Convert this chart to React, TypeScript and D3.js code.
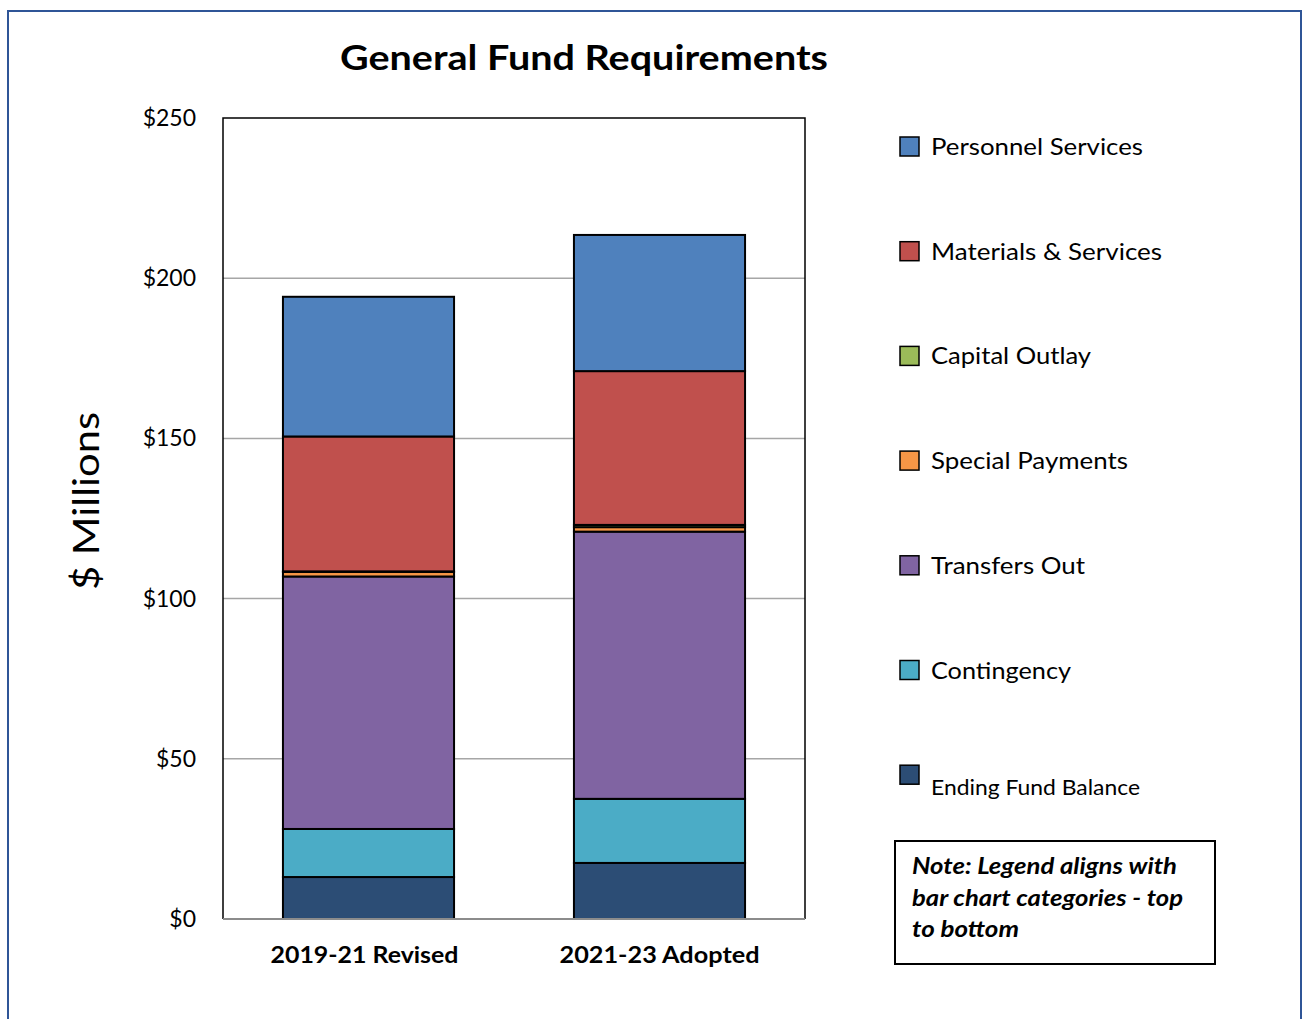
import React from "react";
import * as d3 from "d3";

const categories = ["2019-21 Revised", "2021-23 Adopted"];
// stacking order bottom -> top
const seriesNames = [
  "Ending Fund Balance",
  "Contingency",
  "Transfers Out",
  "Special Payments",
  "Capital Outlay",
  "Materials & Services",
  "Personnel Services",
];
const endingFundBalance = [13.1, 17.5];
const contingency = [15.0, 20.0];
const transfersOut = [78.8, 83.4];
const specialPayments = [1.4, 1.4];
const capitalOutlay = [0.2, 0.7];
const materialsServices = [42.1, 48.0];
const personnelServices = [43.6, 42.5];
const yTicks = [0, 50, 100, 150, 200, 250];
const legendOrder = [
  "Personnel Services",
  "Materials & Services",
  "Capital Outlay",
  "Special Payments",
  "Transfers Out",
  "Contingency",
  "Ending Fund Balance",
];
const noteLines = ["Note: Legend aligns with", "bar chart categories - top", "to bottom"];
const colors: Record<string, string> = {
  "Personnel Services": "#4F81BD",
  "Materials & Services": "#C0504D",
  "Capital Outlay": "#9BBB59",
  "Special Payments": "#F79646",
  "Transfers Out": "#8064A2",
  Contingency: "#4BACC6",
  "Ending Fund Balance": "#2C4D75",
};
const legendWidths = [212, 231, 160, 197, 154, 140, 209];
const catWidths = [188, 200];
const noteWidths = [265, 271, 107];

const seriesValues = [
  endingFundBalance,
  contingency,
  transfersOut,
  specialPayments,
  capitalOutlay,
  materialsServices,
  personnelServices,
];

export default function App() {
  const W = 1303;
  const H = 1019;
  const left = 223, right = 805, top = 118, bottom = 919;
  const font = "Lato, 'Open Sans', sans-serif";

  const x = d3.scaleBand<string>().domain(categories).range([left, right]).paddingInner(0.412).paddingOuter(0.206);
  const y = d3.scaleLinear().domain([0, 250]).range([bottom, top]);

  const table = categories.map((c, i) => {
    const row: any = { cat: c };
    seriesNames.forEach((s, k) => (row[s] = seriesValues[k][i]));
    return row;
  });
  const stacked = d3.stack<any>().keys(seriesNames)(table);

  const legendY0 = 147;
  const legendStep = 104.7;

  return (
    <svg width={W} height={H} style={{ position: "absolute", left: 0, top: 0, background: "#fff" }}>
      <rect x={8} y={11} width={1293} height={1040} fill="#fff" stroke="#2F5597" strokeWidth={2} />
      <text x={584} y={70} textAnchor="middle" fontFamily={font} fontWeight={700} fontSize={34}
        textLength={488} lengthAdjust="spacingAndGlyphs" fill="#000">General Fund Requirements</text>

      {/* gridlines */}
      {yTicks.filter((t) => t > 0 && t < 250).map((t) => (
        <line key={t} x1={left} x2={right} y1={y(t)} y2={y(t)} stroke="#A6A6A6" strokeWidth={1.5} />
      ))}
      {/* plot frame */}
      <path d={`M${left},${bottom} L${left},${top} L${right},${top} L${right},${bottom}`} fill="none" stroke="#000" strokeWidth={1.5} />

      {/* bars */}
      {stacked.map((layer) => (
        <g key={layer.key}>
          {layer.map((d, i) => (
            <rect key={i} x={x(categories[i])!} width={x.bandwidth()} y={y(d[1])} height={y(d[0]) - y(d[1])}
              fill={colors[layer.key as string]} stroke="#000" strokeWidth={2} />
          ))}
        </g>
      ))}
      <line x1={left} x2={right} y1={bottom} y2={bottom} stroke="#8C8C8C" strokeWidth={2} />

      {/* y ticks */}
      {yTicks.map((t) => (
        <text key={t} x={196} y={y(t) + 8} textAnchor="end" fontFamily={font} fontSize={23} fill="#000">{`$${t}`}</text>
      ))}
      <text transform={`translate(99,${501}) rotate(-90)`} textAnchor="middle" fontFamily={font} fontSize={36} fill="#000"
        textLength={178} lengthAdjust="spacingAndGlyphs">$ Millions</text>

      {/* x labels */}
      {categories.map((c, i) => (
        <text key={c} x={x(c)! + x.bandwidth() / 2 - (i === 0 ? 4 : 0)} y={963} textAnchor="middle" fontFamily={font} fontWeight={700} fontSize={23}
          textLength={catWidths[i]} lengthAdjust="spacingAndGlyphs" fill="#000">{c}</text>
      ))}

      {/* legend */}
      {legendOrder.map((s, i) => {
        const cy = legendY0 + i * legendStep;
        const isLast = i === legendOrder.length - 1;
        return (
          <g key={s}>
            <rect x={900} y={cy - 10} width={19} height={19} fill={colors[s]} stroke="#000" strokeWidth={1.5} />
            <text x={931} y={cy + 8 + (isLast ? 12 : 0)} fontFamily={font} fontSize={isLast ? 22 : 24}
              textLength={legendWidths[i]} lengthAdjust="spacingAndGlyphs" fill="#000">{s}</text>
          </g>
        );
      })}

      {/* note box */}
      <rect x={895} y={841} width={320} height={123} fill="#fff" stroke="#000" strokeWidth={2} />
      {noteLines.map((t, i) => (
        <text key={i} x={912} y={874 + i * 31.5} fontFamily={font} fontWeight={700} fontStyle="italic" fontSize={22}
          textLength={noteWidths[i]} lengthAdjust="spacingAndGlyphs" fill="#000">{t}</text>
      ))}
    </svg>
  );
}
